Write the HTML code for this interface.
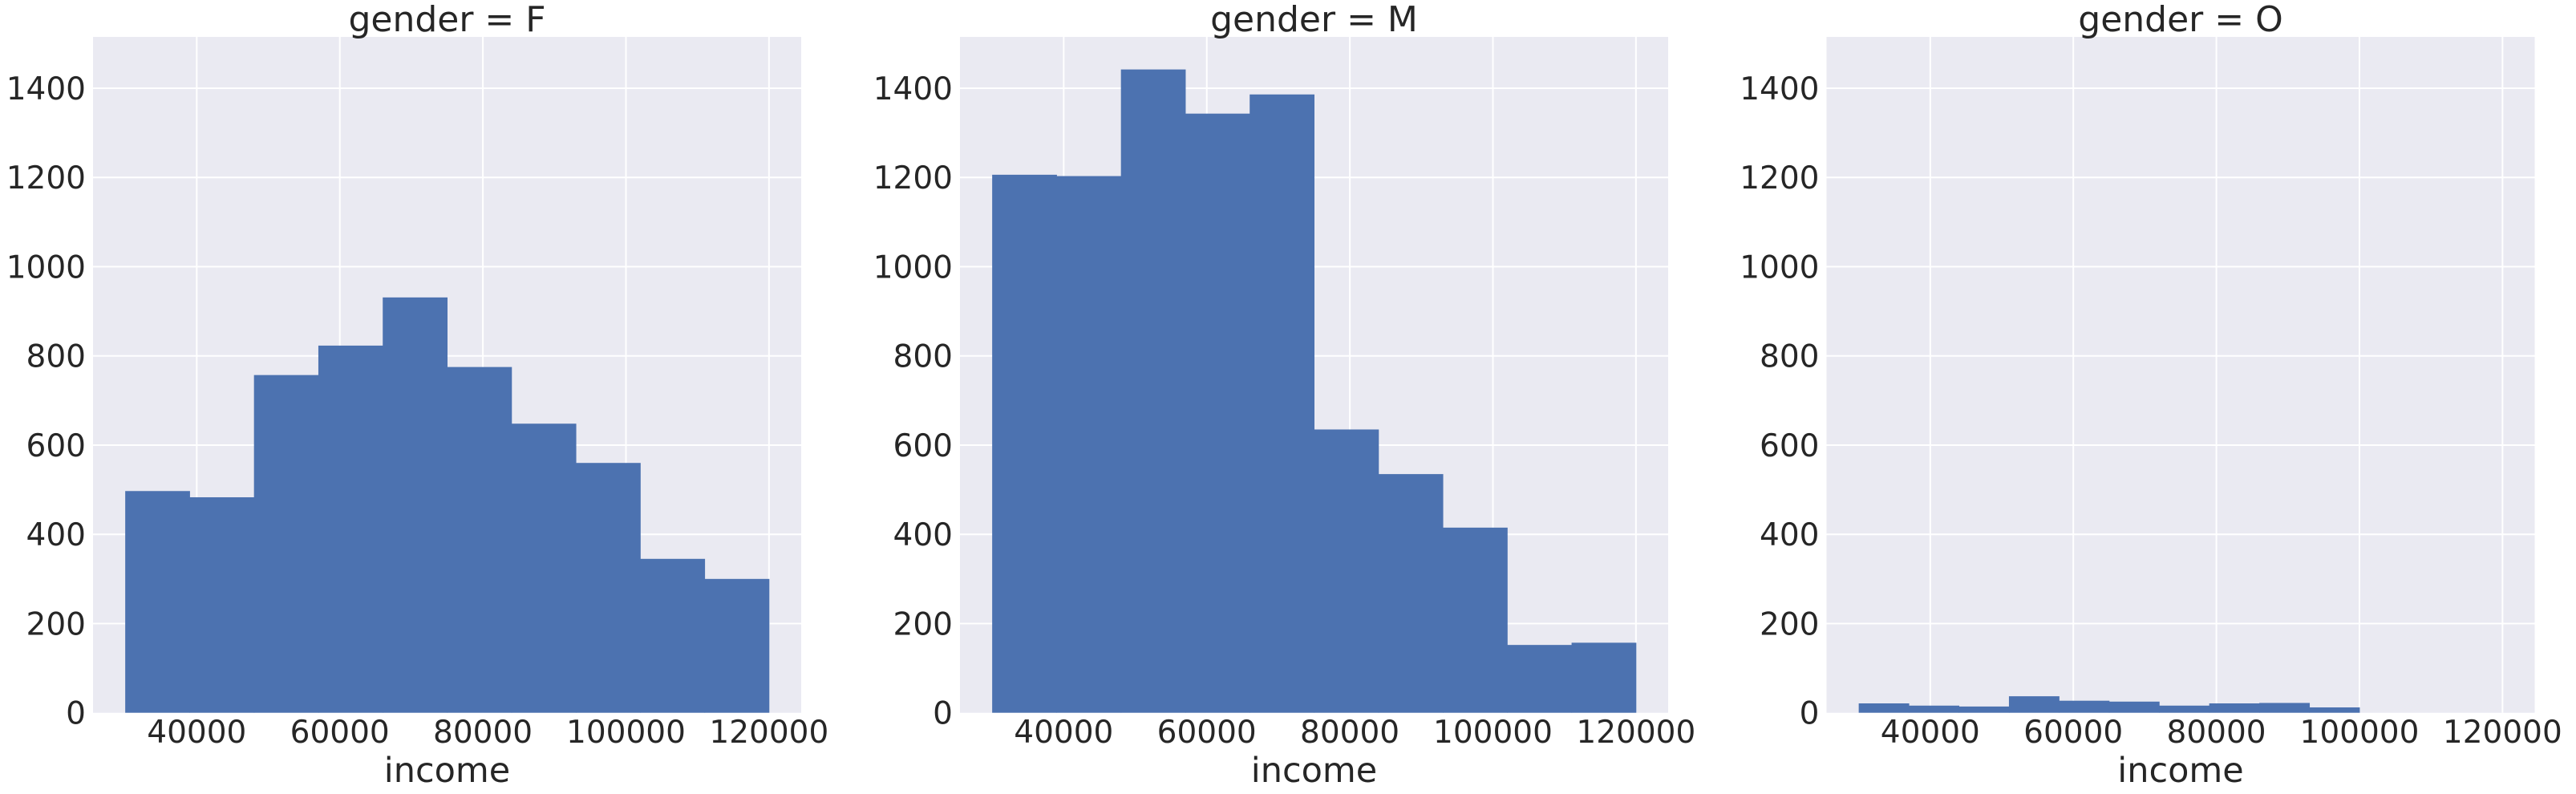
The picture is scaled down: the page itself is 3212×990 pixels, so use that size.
<!DOCTYPE html>
<html><head><meta charset="utf-8"><style>
html,body{margin:0;padding:0;background:#fff;}
svg{display:block;}
text{font-family:"DejaVu Sans","Liberation Sans",sans-serif;fill:#262626;}
</style></head><body>
<svg id="chart" width="3212" height="990" xmlns="http://www.w3.org/2000/svg"></svg>
<script>
const panelTitles = ["gender = F", "gender = M", "gender = O"];
const countsF = [497, 483, 757, 823, 931, 775, 648, 560, 345, 300];
const countsM = [1206, 1203, 1442, 1343, 1386, 635, 535, 415, 152, 157];
const countsO = [21, 16, 14, 37, 27, 25, 16, 21, 22, 12];
const binStartF = 30000, binEndF = 120000;
const binStartM = 30000, binEndM = 120000;
const binStartO = 30000, binEndO = 100000;
const xTicks = [40000, 60000, 80000, 100000, 120000];
const yTicks = [0, 200, 400, 600, 800, 1000, 1200, 1400];

const svg = document.getElementById('chart');
const NS = 'http://www.w3.org/2000/svg';
function mk(tag, attrs, parent){const e=document.createElementNS(NS,tag);for(const k in attrs)e.setAttribute(k,attrs[k]);(parent||svg).appendChild(e);return e;}

const panelLefts = [116, 1197, 2277.5];
const plotW = 883, plotTop = 46, plotBottom = 888.7;
const xMin = 25500, xMax = 124500, yMax = 1515;
const allCounts = [countsF, countsM, countsO];
const starts = [binStartF, binStartM, binStartO];
const ends = [binEndF, binEndM, binEndO];
const keys = ['f','m','o'];

panelLefts.forEach((L, p) => {
  const xs = v => L + (v - xMin) / (xMax - xMin) * plotW;
  const ys = v => plotBottom - v / yMax * (plotBottom - plotTop);
  const g = mk('g', {});
  
  
  const bg = mk('rect', {x:L, y:plotTop, width:plotW, height:plotBottom-plotTop, fill:'#eaeaf2'}, g);
  
  
  yTicks.forEach(t => {
    const y = ys(t);
    if (t > 0) {
      const gl = mk('line', {x1:L, x2:L+plotW, y1:y, y2:y, stroke:'#fff', 'stroke-width':2}, g);
      
      
    }
    const tl = mk('text', {x:L-9, y:y+14, 'font-size':39, 'text-anchor':'end'}, g);
    tl.textContent = t;
    
    
  });
  xTicks.forEach(t => {
    const x = xs(t);
    const gl = mk('line', {x1:x, x2:x, y1:plotTop, y2:plotBottom, stroke:'#fff', 'stroke-width':2}, g);
    
    
    const tl = mk('text', {x:x, y:926, 'font-size':39, 'text-anchor':'middle'}, g);
    tl.textContent = t;
    
    
  });
  const c = allCounts[p], n = c.length, w = (ends[p] - starts[p]) / n;
  c.forEach((v, i) => {
    const x0 = xs(starts[p] + i*w), x1 = xs(starts[p] + (i+1)*w);
    const r = mk('rect', {x:x0, y:ys(v), width:x1-x0+0.5, height:plotBottom-ys(v), fill:'#4c72b0'}, g);
    
    
  });
  const tt = mk('text', {x:L+plotW/2, y:39, 'font-size':44, 'text-anchor':'middle'}, g);
  tt.textContent = panelTitles[p];
  
  
  const xl = mk('text', {x:L+plotW/2, y:975, 'font-size':43, 'text-anchor':'middle'}, g);
  xl.textContent = 'income';
  
  
});
</script>
</body></html>
